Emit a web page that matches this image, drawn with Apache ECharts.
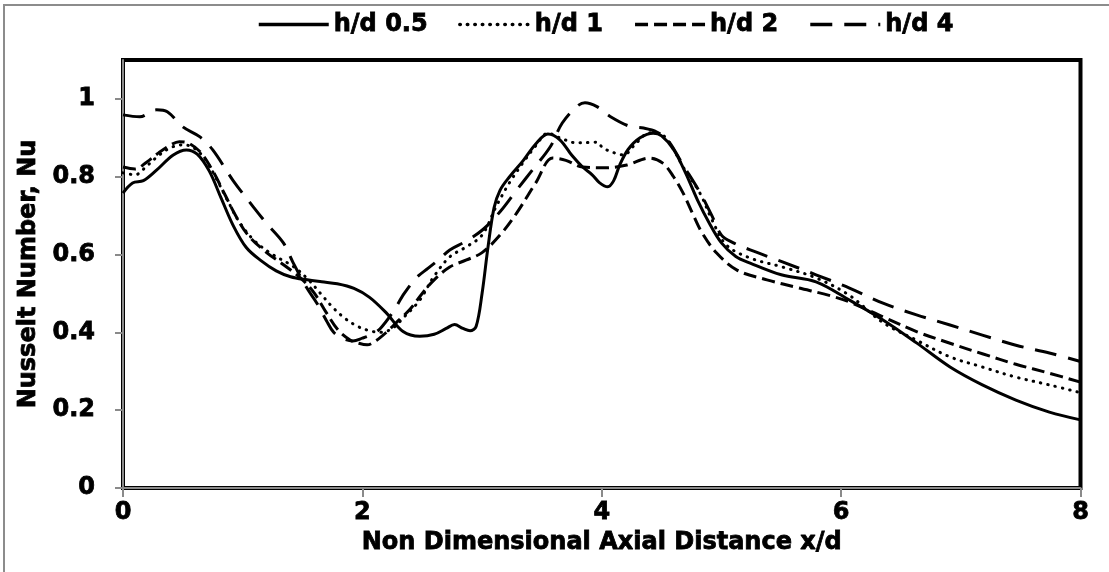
<!DOCTYPE html>
<html>
<head>
<meta charset="utf-8">
<script src="https://cdn.jsdelivr.net/npm/echarts@6/dist/echarts.min.js"></script>
<style>
  html, body { margin: 0; padding: 0; background: #fff; }
  #chart { width: 1109px; height: 572px; }
</style>
</head>
<body>
<div id="chart"></div>
<script>
// Local Nusselt number along the wall for four jet-to-plate spacings h/d
const seriesNames = ['h/d 0.5', 'h/d 1', 'h/d 2', 'h/d 4'];

const xTicks = [0, 2, 4, 6, 8];
const yTicks = [0, 0.2, 0.4, 0.6, 0.8, 1];
const yTop = 1.1;

// h/d 0.5
const xHd05 = [0, 0.08, 0.17, 0.28, 0.42, 0.53, 0.62, 0.72, 0.82, 0.92, 1.03, 1.15, 1.28, 1.4, 1.54, 1.66, 1.79, 1.93, 2.06, 2.2, 2.34, 2.48, 2.6, 2.7, 2.77, 2.84, 2.9, 2.95, 3.0, 3.05, 3.1, 3.15, 3.23, 3.34, 3.45, 3.55, 3.65, 3.75, 3.84, 3.92, 3.98, 4.05, 4.1, 4.15, 4.22, 4.32, 4.43, 4.5, 4.6, 4.7, 4.8, 4.9, 5.0, 5.12, 5.24, 5.5, 5.79, 6.07, 6.35, 6.63, 6.91, 7.18, 7.46, 7.74, 8.0];
const yHd05 = [0.758, 0.784, 0.79, 0.817, 0.856, 0.869, 0.858, 0.815, 0.745, 0.675, 0.618, 0.585, 0.558, 0.543, 0.535, 0.53, 0.525, 0.513, 0.49, 0.45, 0.402, 0.39, 0.395, 0.41, 0.42, 0.41, 0.404, 0.415, 0.5, 0.62, 0.72, 0.765, 0.8, 0.84, 0.885, 0.91, 0.895, 0.855, 0.825, 0.805, 0.785, 0.774, 0.79, 0.83, 0.87, 0.9, 0.912, 0.905, 0.87, 0.81, 0.74, 0.68, 0.63, 0.595, 0.578, 0.548, 0.53, 0.483, 0.432, 0.373, 0.311, 0.265, 0.226, 0.195, 0.175];

// h/d 1
const xHd1 = [0, 0.1, 0.2, 0.3, 0.4, 0.5, 0.58, 0.68, 0.78, 0.88, 0.98, 1.1, 1.25, 1.42, 1.55, 1.65, 1.75, 1.85, 1.95, 2.05, 2.15, 2.25, 2.35, 2.48, 2.59, 2.73, 2.87, 3.0, 3.12, 3.23, 3.34, 3.45, 3.55, 3.65, 3.79, 3.9, 3.96, 4.01, 4.1, 4.18, 4.29, 4.4, 4.51, 4.6, 4.68, 4.82, 4.92, 5.04, 5.24, 5.51, 5.79, 6.07, 6.35, 6.63, 6.91, 7.18, 7.46, 7.74, 8.0];
const yHd1 = [0.81, 0.805, 0.828, 0.855, 0.875, 0.882, 0.876, 0.848, 0.795, 0.735, 0.68, 0.635, 0.6, 0.57, 0.535, 0.5, 0.465, 0.437, 0.417, 0.405, 0.4, 0.41, 0.44, 0.483, 0.54, 0.594, 0.62, 0.65, 0.725, 0.785, 0.835, 0.88, 0.912, 0.9, 0.887, 0.888, 0.889, 0.874, 0.862, 0.856, 0.887, 0.913, 0.907, 0.87, 0.825, 0.758, 0.69, 0.625, 0.591, 0.568, 0.54, 0.495, 0.425, 0.38, 0.337, 0.311, 0.285, 0.265, 0.245];

// h/d 2
const xHd2 = [0, 0.1, 0.2, 0.3, 0.4, 0.47, 0.55, 0.65, 0.75, 0.85, 0.95, 1.05, 1.2, 1.35, 1.5, 1.6, 1.7, 1.8, 1.9, 1.97, 2.04, 2.12, 2.2, 2.3, 2.4, 2.5, 2.6, 2.73, 2.87, 3.0, 3.15, 3.29, 3.45, 3.59, 3.7, 3.84, 4.04, 4.21, 4.4, 4.51, 4.6, 4.68, 4.76, 4.84, 4.96, 5.13, 5.38, 5.65, 5.9, 6.07, 6.35, 6.63, 6.91, 7.18, 7.46, 7.74, 8.0];
const yHd2 = [0.825, 0.82, 0.838, 0.862, 0.882, 0.89, 0.886, 0.862, 0.815, 0.755, 0.695, 0.648, 0.605, 0.572, 0.535, 0.5, 0.45, 0.405, 0.38, 0.372, 0.368, 0.38, 0.4, 0.43, 0.46, 0.5, 0.535, 0.568, 0.586, 0.605, 0.65, 0.707, 0.785, 0.848, 0.842, 0.825, 0.823, 0.83, 0.848, 0.835, 0.8, 0.758, 0.705, 0.655, 0.604, 0.56, 0.535, 0.514, 0.495, 0.478, 0.44, 0.402, 0.372, 0.345, 0.318, 0.295, 0.272];

// h/d 4
const xHd4 = [0, 0.14, 0.28, 0.37, 0.5, 0.64, 0.75, 0.92, 1.09, 1.2, 1.34, 1.42, 1.53, 1.62, 1.7, 1.76, 1.83, 1.92, 2.0, 2.08, 2.15, 2.25, 2.35, 2.45, 2.55, 2.65, 2.73, 2.87, 3.01, 3.15, 3.29, 3.42, 3.57, 3.67, 3.79, 3.86, 3.96, 4.07, 4.23, 4.35, 4.46, 4.55, 4.68, 4.82, 4.92, 5.0, 5.1, 5.24, 5.51, 5.79, 6.07, 6.35, 6.63, 6.91, 7.18, 7.46, 7.74, 8.0];
const yHd4 = [0.959, 0.954, 0.972, 0.967, 0.928, 0.903, 0.869, 0.79, 0.722, 0.68, 0.63, 0.58, 0.517, 0.475, 0.43, 0.4, 0.385, 0.378, 0.385, 0.395, 0.41, 0.45, 0.5, 0.54, 0.565, 0.59, 0.612, 0.635, 0.665, 0.71, 0.766, 0.817, 0.877, 0.938, 0.98, 0.99, 0.98, 0.955, 0.93, 0.925, 0.915, 0.895, 0.83, 0.76, 0.7, 0.65, 0.63, 0.612, 0.581, 0.548, 0.514, 0.475, 0.445, 0.419, 0.393, 0.367, 0.347, 0.325];

const zip = (xs, ys) => xs.map((x, i) => [x, ys[i]]);

const FONT = 'DejaVu Sans';
// heavy black type; a thin outline thickens the bold face
const textBase = {
  fontFamily: FONT, fontWeight: 'bold', fontSize: 24, color: '#000',
  textBorderColor: '#000', textBorderWidth: 0.8
};

const dashStyles = [
  { type: 'solid', cap: 'butt' },
  { type: [0.5, 7], cap: 'round' },
  { type: [13, 6], cap: 'butt' },
  { type: [22, 12], cap: 'butt' }
];
const seriesData = [zip(xHd05, yHd05), zip(xHd1, yHd1), zip(xHd2, yHd2), zip(xHd4, yHd4)];

const chart = echarts.init(document.getElementById('chart'), null, { renderer: 'canvas' });

chart.setOption({
  animation: false,
  backgroundColor: '#fff',
  textStyle: textBase,
  graphic: [{
    type: 'rect',
    silent: true,
    shape: { x: 4, y: 5, width: 1200, height: 700 },
    style: { fill: 'none', stroke: '#8c8c8c', lineWidth: 2 },
    z: -10
  }],
  legend: {
    left: 252,
    top: 7,
    itemWidth: 70,
    itemHeight: 14,
    itemGap: 30,
    itemStyle: { opacity: 0 },
    lineStyle: { width: 3.5 },
    textStyle: textBase,
    data: seriesNames
  },
  grid: {
    left: 123, right: 28.5, top: 60, bottom: 84,
    show: true, borderColor: '#000', borderWidth: 4, backgroundColor: 'transparent',
    containLabel: false
  },
  xAxis: {
    type: 'value',
    min: xTicks[0], max: xTicks[xTicks.length - 1], interval: xTicks[1] - xTicks[0],
    name: 'Non Dimensional Axial Distance x/d',
    nameLocation: 'middle',
    nameGap: 36,
    nameTextStyle: textBase,
    axisLine: { show: true, lineStyle: { color: '#8a8a8a', width: 2 } },
    axisTick: { show: true, length: 9, lineStyle: { color: '#8a8a8a', width: 2 } },
    axisLabel: Object.assign({}, textBase, { margin: 13 }),
    splitLine: { show: false }
  },
  yAxis: {
    type: 'value',
    min: yTicks[0], max: yTop, interval: yTicks[1] - yTicks[0],
    name: 'Nusselt Number, Nu',
    nameLocation: 'middle',
    nameGap: 78,
    nameRotate: 90,
    nameTextStyle: textBase,
    axisLine: { show: true, lineStyle: { color: '#8a8a8a', width: 2 } },
    axisTick: { show: true, length: 8, lineStyle: { color: '#8a8a8a', width: 2 } },
    axisLabel: Object.assign({}, textBase, { margin: 28, showMaxLabel: false,
      formatter: v => (Math.round(v * 10) / 10).toString() }),
    splitLine: { show: false }
  },
  series: seriesNames.map((name, i) => ({
    name,
    type: 'line',
    data: seriesData[i],
    smooth: 0.35,
    symbol: 'none',
    clip: true,
    lineStyle: Object.assign({ color: '#000', width: 3, join: 'round' }, dashStyles[i]),
    itemStyle: { color: '#000' },
    z: 3
  }))
});
</script>
</body>
</html>
